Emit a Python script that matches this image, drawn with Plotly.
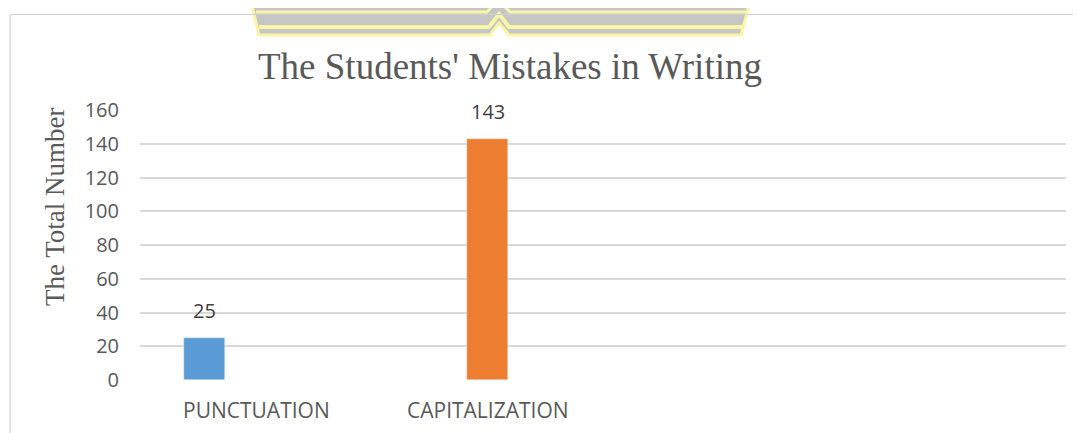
import plotly.graph_objects as go

categories = ["PUNCTUATION", "CAPITALIZATION"]
values = [25, 143]
colors = ["#5b9bd5", "#ed7d31"]
y_ticks = [0, 20, 40, 60, 80, 100, 120, 140, 160]
title_text = "The Students' Mistakes in Writing"
y_title = "The Total Number"

OFF = 8  # page body margin
W, H = 1081 - OFF, 433 - OFF
L, R, T, B = 140 - OFF, 1066 - OFF, 110 - OFF, 380 - OFF  # plot area in pixels

def px(xp):
    return (xp - OFF - L) / (R - L)

def py(yp):
    return (B - (yp - OFF)) / (B - T)

fig = go.Figure()
for i, (c, v, col) in enumerate(zip(categories, values, colors)):
    fig.add_trace(go.Bar(x=[i], y=[v], marker_color=col, width=0.145,
                         name=c, showlegend=False, hoverinfo="skip"))

annotations = []
for i, v in enumerate(values):
    annotations.append(dict(x=i, y=v, text=str(v), showarrow=False, xref="x", yref="y",
                            xanchor="center", yanchor="bottom", yshift=12,
                            font=dict(family="Open Sans", size=20, color="#404040")))
label_shift = [52, 0]
for i, c in enumerate(categories):
    annotations.append(dict(x=i, y=0, text=c, showarrow=False, xref="x", yref="y",
                            xanchor="center", yanchor="middle", yshift=-30, xshift=label_shift[i],
                            font=dict(family="Open Sans", size=21, color="#595959")))
annotations.append(dict(x=px(510), y=py(66), xref="paper", yref="paper", text=title_text,
                        xanchor="center", yanchor="middle",
                        showarrow=False, font=dict(family="Liberation Serif", size=37, color="#595959")))
annotations.append(dict(x=px(55), y=py(207), xref="paper", yref="paper", text=y_title,
                        xanchor="center", yanchor="middle",
                        textangle=-90, showarrow=False,
                        font=dict(family="Liberation Serif", size=27, color="#595959")))

shapes = []
# chart frame
shapes.append(dict(type="line", xref="paper", yref="paper", x0=px(10), x1=px(1081), y0=py(14.5), y1=py(14.5),
                   line=dict(color="#d0d0d0", width=1.2), layer="above"))
shapes.append(dict(type="line", xref="paper", yref="paper", x0=px(10), x1=px(10), y0=py(14.5), y1=py(433),
                   line=dict(color="#d9d9d9", width=1.5)))
# watermark logo (decoration)
def path(points, close=True):
    s = "M " + " L ".join(f"{px(a):.5f},{py(b):.5f}" for a, b in points)
    return s + (" Z" if close else "")
outer = [(250, -2), (259, 35), (490, 35), (499, 23), (509, 35), (741, 35), (751, -2)]
shapes.append(dict(type="path", xref="paper", yref="paper", path=path(outer),
                   fillcolor="#c6c6c6", line=dict(color="#f8f6a6", width=3), layer="below"))
inner = [(256, 12), (487, 12), (498, 0), (510, 12), (746, 12)]
shapes.append(dict(type="path", xref="paper", yref="paper", path=path(inner, False),
                   line=dict(color="#f8f6a6", width=3), layer="below"))
inner2 = [(259, 27), (489, 27), (499, 14), (509, 27), (742, 27)]
shapes.append(dict(type="path", xref="paper", yref="paper", path=path(inner2, False),
                   line=dict(color="#f8f6a6", width=4), layer="below"))

x0 = -(204.5 - OFF - L - OFF) / 283.0
x0 = -(204.5 - 140) / 283.0
x1 = (1066 - 204.5) / 283.0

fig.update_layout(
    width=W, height=H,
    margin=dict(l=L, r=W - R, t=T, b=H - B),
    paper_bgcolor="white", plot_bgcolor="white",
    xaxis=dict(range=[x0, x1], showticklabels=False, showgrid=False, zeroline=False,
               showline=False, ticks=""),
    yaxis=dict(range=[0, 160], tickvals=y_ticks, showgrid=True, gridcolor="#d9d9d9",
               gridwidth=1.5, zeroline=False, showline=False, ticks="",
               tickfont=dict(family="Open Sans", size=20, color="#595959"), ticklabelstandoff=20),
    annotations=annotations, shapes=shapes, bargap=0,
)

fig.write_html("out.html")
